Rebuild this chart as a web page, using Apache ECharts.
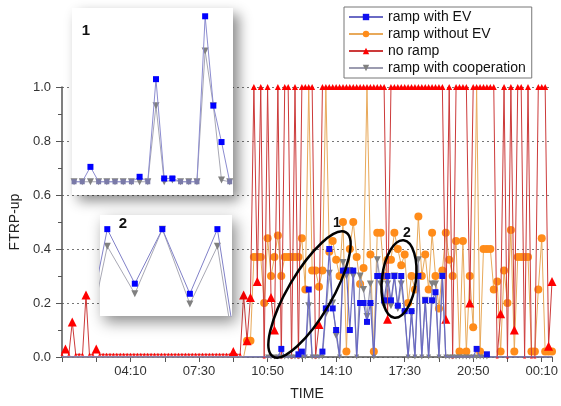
<!DOCTYPE html>
<html>
<head>
<meta charset="utf-8">
<script src="https://cdn.jsdelivr.net/npm/echarts@6/dist/echarts.min.js"></script>
<style>
  html, body { margin: 0; padding: 0; background: #fff; }
  #chart { width: 561px; height: 406px; }
</style>
</head>
<body>
<div id="chart"></div>
<script>
// x轴刻度标签 (每200分钟一个, 从00:50开始)
var tickLabels = ['04:10', '07:30', '10:50', '14:10', '17:30', '20:50', '00:10'];
var stepMin = 10;
var names = ['ramp with EV', 'ramp without EV', 'no ramp', 'ramp with cooperation'];

// 主图数据, 每10分钟一个点
var rampEV = [
  0, 0, 0, 0, 0, 0, 0, 0, 0, 0,
  0, 0, 0, 0, 0, 0, 0, 0, 0, 0,
  0, 0, 0, 0, 0, 0, 0, 0, 0, 0,
  0, 0, 0, 0, 0, 0, 0, 0, 0, 0,
  0, 0, 0, 0, 0, 0, 0, 0, 0, 0,
  0, 0, 0, 0, 0, 0, 0, 0, 0, 0,
  0, 0, 0, 0, 0.03, 0, 0, 0, 0, 0.01,
  0.02, 0, 0.25, 0, 0, 0, 0.02, 0.18, 0.40, 0.18,
  0.10, 0, 0.32, 0.32, 0.10, 0.32, 0, 0.20, 0.20, 0.13,
  0.20, 0, 0.30, 0.30, 0.21, 0.30, 0.21, 0.30, 0.19, 0.30,
  0.17, 0, 0.17, 0, 0.30, 0, 0.21, 0, 0.21, 0.24,
  0, 0.30, 0, 0, 0, 0, 0, 0, 0, 0,
  0, 0.03, 0, 0, 0.01, 0, 0, 0, 0, 0,
  0, 0, 0, 0, 0, 0, 0, 0, 0, 0,
  0, 0, 0, 0
];
var rampNoEV = [
  0, 0, 0, 0, 0, 0, 0, 0, 0, 0,
  0, 0, 0, 0, 0, 0, 0, 0, 0, 0,
  0, 0, 0, 0, 0, 0, 0, 0, 0, 0,
  0, 0, 0, 0, 0, 0, 0, 0, 0, 0,
  0, 0, 0, 0, 0, 0, 0, 0, 0, 0,
  0, 0, 0, 0, 0.06, 0.06, 0.37, 0.37, 0.37, 0.20,
  0.44, 0.30, 0.37, 0.45, 0.30, 0.37, 0.37, 0.37, 0.37, 0.37,
  0.44, 0.25, 1, 0.32, 0.32, 0.26, 0.32, 1, 0.39, 0.43,
  0.36, 0.30, 0.50, 0.02, 0.40, 0.50, 0.37, 0.27, 0.33, 1,
  0.38, 0.02, 0.46, 0.46, 0.30, 0.36, 0.36, 0.46, 0.40, 0.34,
  0.38, 0.20, 0.30, 0.25, 0.52, 0.30, 0.38, 0.25, 0.46, 0.30,
  0.18, 0.32, 0.46, 0.36, 0.30, 0.43, 0.02, 0.43, 0.02, 0.30,
  0.11, 1, 0.02, 0.40, 0.40, 0.40, 0.25, 0.28, 0.02, 0.32,
  0.20, 0.47, 0.02, 0.37, 0.37, 0.37, 0.37, 0.02, 0.02, 0.25,
  0.44, 0.02, 0.02, 0.02
];
var noRamp = [
  0.01, 0.03, 0.01, 0.13, 0.01, 0.01, 0.01, 0.23, 0.01, 0.01,
  0.03, 0.01, 0.01, 0.01, 0.01, 0.01, 0.01, 0.01, 0.01, 0.01,
  0.01, 0.01, 0.01, 0.01, 0.01, 0.01, 0.01, 0.01, 0.01, 0.01,
  0.01, 0.01, 0.01, 0.01, 0.01, 0.01, 0.01, 0.01, 0.01, 0.01,
  0.01, 0.01, 0.01, 0.01, 0.01, 0.01, 0.01, 0.01, 0.01, 0.01,
  0.02, 0.01, 0.01, 0.23, 0.06, 0.22, 1, 0.28, 1, 0,
  1, 0.22, 0.10, 1, 0, 1, 1, 0, 1, 0,
  1, 1, 1, 1, 0, 0.12, 1, 1, 1, 1,
  1, 1, 1, 1, 1, 1, 1, 1, 1, 1,
  1, 1, 1, 1, 1, 0.14, 1, 1, 1, 1,
  1, 1, 1, 1, 1, 1, 1, 1, 1, 1,
  1, 1, 0.14, 1, 0, 1, 1, 1, 1, 0.20,
  1, 1, 1, 1, 1, 1, 1, 0, 0.16, 1,
  0, 1, 0.10, 1, 1, 0, 1, 0, 0, 1,
  1, 1, 0.04, 0.28
];
var rampCoop = [
  0, 0, 0, 0, 0, 0, 0, 0, 0, 0,
  0, 0, 0, 0, 0, 0, 0, 0, 0, 0,
  0, 0, 0, 0, 0, 0, 0, 0, 0, 0,
  0, 0, 0, 0, 0, 0, 0, 0, 0, 0,
  0, 0, 0, 0, 0, 0, 0, 0, 0, 0,
  0, 0, 0, 0, 0, 0, 0, 0, 0, 0,
  0, 0, 0, 0, 0, 0, 0, 0, 0, 0,
  0, 0, 0.19, 0, 0, 0, 0, 0.16, 0.31, 0.20,
  0.08, 0, 0.35, 0.30, 0.32, 0.30, 0, 0.30, 0.25, 0.15,
  0.27, 0, 0.36, 0.27, 0.19, 0.27, 0.19, 0.30, 0.18, 0.27,
  0.16, 0, 0.16, 0, 0.36, 0, 0.21, 0, 0.27, 0.27,
  0, 0.30, 0, 0, 0, 0, 0, 0, 0, 0,
  0, 0, 0, 0, 0, 0, 0, 0, 0, 0,
  0, 0, 0, 0, 0, 0, 0, 0, 0, 0,
  0, 0, 0, 0
];

// 放大图1 (相对单位)
var inset1EV   = [0, 0, 0.09, 0, 0, 0, 0, 0, 0.03, 0, 0.62, 0.02, 0.02, 0, 0, 0, 1.0, 0.46, 0.24, 0];
var inset1Coop = [0, 0, 0, 0, 0, 0, 0, 0, 0, 0, 0.46, 0, 0.01, 0, 0, 0, 0.79, 0.46, 0.01, 0];
// 放大图2 (相对单位, 两端点在框外被裁剪)
var inset2X    = [-1, 0, 1, 2, 3, 4, 5];
var inset2EV   = [-0.5, 0.86, 0.32, 0.86, 0.22, 0.86, -0.9];
var inset2Coop = [-0.6, 0.69, 0.22, 0.86, 0.12, 0.69, -1.0];

function pairs(arr) {
  return arr.map(function (v, i) { return [i * stepMin, v]; });
}
function pairsIdx(arr) {
  return arr.map(function (v, i) { return [i, v]; });
}

var myChart = echarts.init(document.getElementById('chart'));

var option = {
  animation: false,
  backgroundColor: '#fff',
  legend: {
    data: names,
    orient: 'vertical',
    left: 344,
    top: 7,
    itemWidth: 34,
    itemHeight: 8,
    itemGap: 3,
    padding: [3, 6, 3, 4],
    borderColor: '#777',
    borderWidth: 1,
    backgroundColor: '#fff',
    z: 30,
    textStyle: { fontFamily: 'Liberation Sans', fontSize: 14, color: '#111' }
  },
  grid: [
    { left: 62, right: 8, top: 87, bottom: 47 },
    // 放大图1
    { left: 72, top: 8, width: 161, height: 187, show: true, backgroundColor: '#fff', borderWidth: 0,
      shadowBlur: 12, shadowColor: 'rgba(0,0,0,0.45)', shadowOffsetX: 6, shadowOffsetY: 6, z: 10 },
    // 放大图2
    { left: 100, top: 215, width: 132, height: 101, show: true, backgroundColor: '#fff', borderWidth: 0,
      shadowBlur: 14, shadowColor: 'rgba(0,0,0,0.45)', shadowOffsetX: 4, shadowOffsetY: 6, z: 10 }
  ],
  xAxis: [
    {
      type: 'value',
      gridIndex: 0,
      min: 0,
      max: 1430,
      interval: 100,
      name: 'TIME',
      nameLocation: 'middle',
      nameGap: 30,
      nameTextStyle: { fontFamily: 'Liberation Sans', fontSize: 14, color: '#222' },
      axisLine: { lineStyle: { color: '#555', width: 1.5 } },
      axisTick: { inside: false, length: 5, lineStyle: { color: '#555' } },
      axisLabel: {
        fontFamily: 'Liberation Sans', fontSize: 13, color: '#333', margin: 8,
        formatter: function (v) {
          return (v > 0 && v % 200 === 0) ? tickLabels[v / 200 - 1] : '';
        }
      },
      splitLine: { show: false }
    },
    { type: 'value', gridIndex: 1, min: -0.25, max: 19.4, show: false },
    { type: 'value', gridIndex: 2, min: -0.265, max: 4.53, show: false }
  ],
  yAxis: [
    {
      type: 'value',
      gridIndex: 0,
      min: 0,
      max: 1,
      interval: 0.2,
      name: 'FTRP-up',
      nameLocation: 'middle',
      nameGap: 40,
      nameTextStyle: { fontFamily: 'Liberation Sans', fontSize: 14, color: '#222' },
      axisLine: { show: true, lineStyle: { color: '#555', width: 1.5 } },
      axisTick: { show: true, length: 6, lineStyle: { color: '#555' } },
      minorTick: { show: true, splitNumber: 2, length: 4, lineStyle: { color: '#555' } },
      axisLabel: {
        fontFamily: 'Liberation Sans', fontSize: 13, color: '#333', margin: 11,
        formatter: function (v) { return v.toFixed(1); }
      },
      splitLine: { show: true, lineStyle: { color: '#777', type: [2, 3], width: 1 } }
    },
    { type: 'value', gridIndex: 1, min: -0.08, max: 1.05, show: false },
    { type: 'value', gridIndex: 2, min: 0, max: 1, show: false }
  ],
  series: [
    {
      name: names[0],
      type: 'line',
      data: pairs(rampEV),
      z: 5,
      symbol: 'rect',
      symbolSize: function (v) { return v[1] > 0 ? 6 : 0; },
      itemStyle: { color: '#1010f0' },
      lineStyle: { color: '#6a6ac4', width: 1.2 }
    },
    {
      name: names[1],
      type: 'line',
      data: pairs(rampNoEV),
      z: 2,
      symbol: 'circle',
      symbolSize: function (v, p) {
        if (v[1] >= 0.99) return 0;
        return v[1] > 0 ? 8 : (p.dataIndex >= 60 ? 5 : 0);
      },
      itemStyle: { color: '#ff8c1a' },
      lineStyle: { color: '#e8a95a', width: 1 }
    },
    {
      name: names[2],
      type: 'line',
      data: pairs(noRamp),
      z: 3,
      symbol: 'triangle',
      symbolSize: function (v) {
        if (v[1] >= 0.99) return 6;
        if (v[1] < 0.02) return 3;
        return 9;
      },
      itemStyle: { color: '#ff0000' },
      lineStyle: { color: '#cc3a3a', width: 1 }
    },
    {
      name: names[3],
      type: 'line',
      data: pairs(rampCoop),
      z: 4,
      symbol: 'triangle',
      symbolRotate: 180,
      symbolSize: function (v, p) { return v[1] > 0 ? 7 : (p.dataIndex >= 60 && p.dataIndex < 125 ? 5 : 0); },
      itemStyle: { color: '#808080' },
      lineStyle: { color: '#9c9cb0', width: 1.2 }
    },
    // 放大图1
    {
      type: 'line', xAxisIndex: 1, yAxisIndex: 1, data: pairsIdx(inset1Coop), z: 12,
      symbol: 'triangle', symbolRotate: 180, symbolSize: 7,
      itemStyle: { color: '#808080' }, lineStyle: { color: '#a8a8b4', width: 1 }
    },
    {
      type: 'line', xAxisIndex: 1, yAxisIndex: 1, data: pairsIdx(inset1EV), z: 13,
      symbol: 'rect', symbolSize: function (v) { return v[1] > 0.015 ? 6 : 5; },
      itemStyle: { color: function (p) { return p.value[1] > 0.015 ? '#0000ff' : '#7a7aa8'; } },
      lineStyle: { color: '#8c8cd0', width: 1 }
    },
    // 放大图2
    {
      type: 'line', xAxisIndex: 2, yAxisIndex: 2, z: 12,
      data: inset2X.map(function (x, i) { return [x, inset2Coop[i]]; }),
      symbol: 'triangle', symbolRotate: 180, symbolSize: 7,
      itemStyle: { color: '#808080' }, lineStyle: { color: '#a8a8b4', width: 1 }
    },
    {
      type: 'line', xAxisIndex: 2, yAxisIndex: 2, z: 13,
      data: inset2X.map(function (x, i) { return [x, inset2EV[i]]; }),
      symbol: 'rect', symbolSize: 6,
      itemStyle: { color: '#0000ff' }, lineStyle: { color: '#8080c8', width: 1 }
    }
  ],
  graphic: [
    { type: 'ellipse', x: 309.5, y: 294.5, rotation: -0.53, shape: { cx: 0, cy: 0, rx: 22, ry: 72 },
      style: { fill: 'none', stroke: '#000', lineWidth: 2.5 }, z: 50 },
    { type: 'ellipse', x: 399, y: 279, rotation: -0.12, shape: { cx: 0, cy: 0, rx: 17, ry: 39 },
      style: { fill: 'none', stroke: '#000', lineWidth: 2.5 }, z: 50 },
    { type: 'text', x: 337, y: 223, z: 50,
      style: { text: '1', font: 'bold 14px "Liberation Sans"', fill: '#111', textAlign: 'center', textVerticalAlign: 'middle' } },
    { type: 'text', x: 407, y: 233, z: 50,
      style: { text: '2', font: 'bold 14px "Liberation Sans"', fill: '#111', textAlign: 'center', textVerticalAlign: 'middle' } },
    { type: 'text', x: 86, y: 31, z: 100,
      style: { text: '1', font: 'bold 15px "Liberation Sans"', fill: '#111', textAlign: 'center', textVerticalAlign: 'middle' } },
    { type: 'text', x: 123, y: 224, z: 100,
      style: { text: '2', font: 'bold 15px "Liberation Sans"', fill: '#111', textAlign: 'center', textVerticalAlign: 'middle' } }
  ]
};

myChart.setOption(option);
window.addEventListener('resize', function () {
  myChart.resize();
});
</script>
</body>
</html>
